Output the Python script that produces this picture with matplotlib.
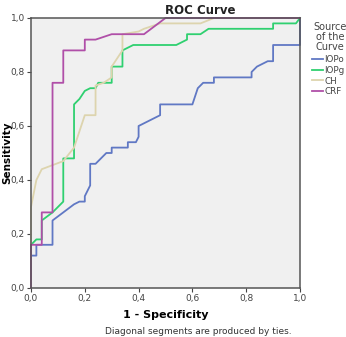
import matplotlib
matplotlib.use("Agg")
import matplotlib.pyplot as plt
from matplotlib.ticker import FuncFormatter

# ROC curve points (1 - specificity, sensitivity)
iopo_fpr = [0.0, 0.0, 0.02, 0.02, 0.08, 0.08, 0.12, 0.16, 0.18, 0.20, 0.20, 0.22, 0.22, 0.24, 0.28, 0.30, 0.30,
            0.36, 0.36, 0.39, 0.40, 0.40, 0.48, 0.48, 0.60, 0.62, 0.64, 0.68, 0.68, 0.82, 0.82, 0.84, 0.88,
            0.90, 0.90, 1.0, 1.0]
iopo_tpr = [0.0, 0.12, 0.12, 0.16, 0.16, 0.25, 0.28, 0.31, 0.32, 0.32, 0.34, 0.38, 0.46, 0.46, 0.50, 0.50, 0.52,
            0.52, 0.54, 0.54, 0.56, 0.60, 0.64, 0.68, 0.68, 0.74, 0.76, 0.76, 0.78, 0.78, 0.80, 0.82, 0.84,
            0.84, 0.90, 0.90, 1.0]

iopg_fpr = [0.0, 0.0, 0.02, 0.04, 0.04, 0.08, 0.12, 0.12, 0.16, 0.16, 0.18, 0.20, 0.22, 0.24, 0.25, 0.30, 0.30,
            0.34, 0.34, 0.38, 0.54, 0.58, 0.58, 0.63, 0.66, 0.90, 0.90, 0.985, 1.0]
iopg_tpr = [0.0, 0.16, 0.18, 0.18, 0.25, 0.28, 0.32, 0.48, 0.48, 0.68, 0.70, 0.73, 0.74, 0.74, 0.76, 0.76, 0.82,
            0.82, 0.88, 0.90, 0.90, 0.92, 0.94, 0.94, 0.96, 0.96, 0.98, 0.98, 1.0]

ch_fpr = [0.0, 0.0, 0.02, 0.04, 0.12, 0.16, 0.20, 0.24, 0.24, 0.27, 0.30, 0.30, 0.34, 0.34, 0.40, 0.42, 0.48,
          0.63, 0.68, 1.0]
ch_tpr = [0.0, 0.30, 0.40, 0.44, 0.47, 0.52, 0.64, 0.64, 0.75, 0.76, 0.78, 0.82, 0.88, 0.94, 0.95, 0.96, 0.98,
          0.98, 1.0, 1.0]

crf_fpr = [0.0, 0.0, 0.04, 0.04, 0.08, 0.08, 0.12, 0.12, 0.20, 0.20, 0.24, 0.30, 0.42, 0.50, 1.0]
crf_tpr = [0.0, 0.16, 0.16, 0.28, 0.28, 0.76, 0.76, 0.88, 0.88, 0.92, 0.92, 0.94, 0.94, 1.0, 1.0]

curve_names = ["IOPo", "IOPg", "CH", "CRF"]
curve_colors = ["#6078c4", "#2fd070", "#ddd4ae", "#b04fa8"]

W, H = 346, 337
fig = plt.figure(figsize=(W / 100, H / 100), dpi=100)
ax = fig.add_axes([31 / W, 1 - 288 / H, 269 / W, 270 / H])
ax.set_facecolor("#f0f0f0")

curves = [(iopo_fpr, iopo_tpr), (iopg_fpr, iopg_tpr), (ch_fpr, ch_tpr), (crf_fpr, crf_tpr)]
for (fpr, tpr), name, color in zip(curves, curve_names, curve_colors):
    ax.plot(fpr, tpr, color=color, linewidth=1.3, label=name, clip_on=False)

ax.set_xlim(0, 1)
ax.set_ylim(0, 1)
ticks = [0.0, 0.2, 0.4, 0.6, 0.8, 1.0]
ax.set_xticks(ticks)
ax.set_yticks(ticks)
comma = FuncFormatter(lambda v, _: f"{v:.1f}".replace(".", ","))
ax.xaxis.set_major_formatter(comma)
ax.yaxis.set_major_formatter(comma)
ax.tick_params(labelsize=6.5, length=3, width=0.8, colors="#444444", pad=1.5)
for sp in ax.spines.values():
    sp.set_color("#555555")
    sp.set_linewidth(1.1)

ax.set_xlabel("1 - Specificity", fontsize=8, fontweight="bold", labelpad=5)
fig.text(7 / W, 1 - 153 / H, "Sensitivity", fontsize=7.5, fontweight="bold",
         rotation=90, ha="center", va="center")

fig.text(200 / W, 1 - 10 / H, "ROC Curve", fontsize=8.5, fontweight="bold",
         ha="center", va="center", color="#222222")
fig.text(330 / W, 1 - 37 / H, "Source\nof the\nCurve", fontsize=7, ha="center", va="center",
         color="#444444", linespacing=0.95)

leg = ax.legend(loc="upper left", bbox_to_anchor=(312 / W, 1 - 55 / H), bbox_transform=fig.transFigure,
                frameon=False, fontsize=6.3, handlelength=1.2, handletextpad=0.2,
                labelspacing=0.2, borderaxespad=0, borderpad=0)
for t in leg.get_texts():
    t.set_color("#444444")

fig.text(198 / W, 1 - 327 / H, "Diagonal segments are produced by ties.", fontsize=6.5,
         ha="center", va="top", color="#333333")

fig.savefig("out.png", dpi=100, facecolor="white")
